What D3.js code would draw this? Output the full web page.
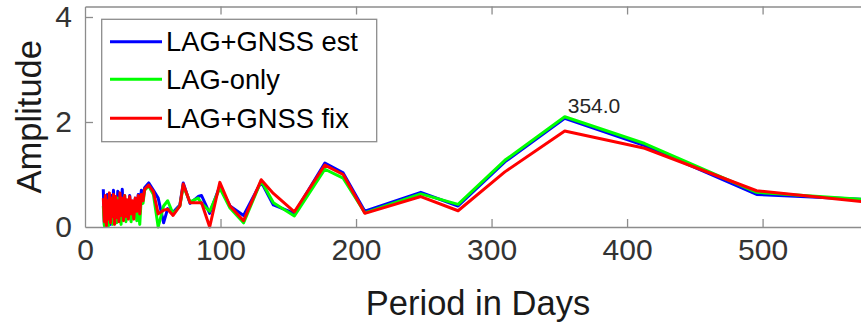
<!DOCTYPE html>
<html>
<head>
<meta charset="utf-8">
<script src="https://cdn.jsdelivr.net/npm/d3@7"></script>
<style>
  body { margin: 0; background: #fff; }
  svg { display: block; font-family: 'Liberation Sans', Arial, sans-serif; }
</style>
</head>
<body>
<div id="graph_container"></div>
<script>
// periods (days) where the lines bend, noisy short-period part first
const periods = [
  13.5, 14.3, 15.0, 15.8, 16.5, 17.3, 18.0, 18.8, 19.5, 20.3, 21.0, 21.8, 22.6, 23.4, 24.2, 25.0, 25.8,
  26.6, 27.5, 28.4, 29.3, 30.2, 31.1, 32.0, 33.0, 34.0, 35.0, 36.0, 37.1, 38.2, 39.3, 40.4, 41.6, 42.8, 44.0,
  47, 50.5, 54, 58, 61, 65, 70, 72.5, 77.5, 83.5, 86, 92, 99.5, 107, 117, 130, 139, 154.5,
  177, 190.5, 206.5, 247.8, 275.3, 309.8, 354, 413, 495.6, 619.5
];
const lagGnssEst = [
  0.72, 0.05, 0.55, 0.10, 0.62, 0.15, 0.45, 0.05, 0.60, 0.20, 0.70, 0.12, 0.55, 0.25, 0.68, 0.18, 0.50,
  0.30, 0.72, 0.20, 0.55, 0.15, 0.48, 0.30, 0.60, 0.22, 0.45, 0.35, 0.55, 0.25, 0.62, 0.40, 0.70, 0.55, 0.75,
  0.84, 0.70, 0.55, 0.08, 0.35, 0.28, 0.42, 0.84, 0.45, 0.58, 0.60, 0.26, 0.78, 0.40, 0.22, 0.86, 0.42, 0.26,
  1.22, 1.03, 0.30, 0.66, 0.40, 1.24, 2.07, 1.55, 0.62, 0.47
];
const lagOnly = [
  0.40, 0.02, 0.50, 0.08, 0.35, 0.02, 0.55, 0.12, 0.45, 0.05, 0.50, 0.20, 0.40, 0.08, 0.55, 0.15, 0.35,
  0.05, 0.50, 0.18, 0.60, 0.10, 0.40, 0.25, 0.50, 0.10, 0.35, 0.20, 0.45, 0.12, 0.40, 0.05, 0.60, 0.45, 0.70,
  0.78, 0.62, 0.00, 0.40, 0.50, 0.25, 0.40, 0.78, 0.48, 0.55, 0.45, 0.30, 0.74, 0.36, 0.08, 0.88, 0.46, 0.21,
  1.10, 0.93, 0.27, 0.63, 0.43, 1.27, 2.10, 1.59, 0.66, 0.45
];
const lagGnssFix = [
  0.55, 0.10, 0.60, 0.02, 0.50, 0.15, 0.65, 0.08, 0.55, 0.20, 0.62, 0.05, 0.58, 0.18, 0.50, 0.10, 0.65,
  0.22, 0.55, 0.12, 0.60, 0.20, 0.52, 0.15, 0.58, 0.25, 0.50, 0.15, 0.55, 0.30, 0.60, 0.25, 0.62, 0.50, 0.72,
  0.80, 0.67, 0.25, 0.32, 0.34, 0.22, 0.40, 0.82, 0.46, 0.46, 0.46, 0.00, 0.85, 0.40, 0.12, 0.90, 0.64, 0.29,
  1.18, 1.00, 0.26, 0.58, 0.31, 1.05, 1.83, 1.50, 0.69, 0.36
];
const seriesNames = ['LAG+GNSS est', 'LAG-only', 'LAG+GNSS fix'];
const seriesColors = ['#0000ff', '#00ff00', '#ff0000'];
const xTicks = [0, 100, 200, 300, 400, 500];
const yTicks = [0, 2, 4];
const peakLabel = { period: 354, amp: 2.07, text: '354.0' };

const width = 861;
const height = 325;
const margin = { top: 6.5, left: 85, bottom: 227, right: 871 };
const AXIS = '#8c8c8c';

let svg, x, y;

function prepare() {
  svg = d3.select('#graph_container').append('svg')
    .attr('width', width).attr('height', height);

  x = d3.scaleLinear().domain([0, 580]).range([margin.left, margin.right]);
  y = d3.scaleLinear().domain([0, 4.2]).range([margin.bottom, margin.top]);

  svg.append('clipPath').attr('id', 'plot-clip')
    .append('rect')
    .attr('x', margin.left).attr('y', margin.top - 3)
    .attr('width', margin.right - margin.left)
    .attr('height', margin.bottom - margin.top + 7);
}

function drawAxes() {
  const bottom = svg.append('g').attr('transform', `translate(0,${margin.bottom})`)
    .call(d3.axisBottom(x).tickValues(xTicks).tickSizeInner(-8).tickSizeOuter(0).tickPadding(12));
  const top = svg.append('g').attr('transform', `translate(0,${margin.top})`)
    .call(d3.axisTop(x).tickValues(xTicks).tickSizeInner(-8).tickSizeOuter(0).tickFormat(''));
  const left = svg.append('g').attr('transform', `translate(${margin.left},0)`)
    .call(d3.axisLeft(y).tickValues(yTicks).tickFormat(d3.format('d'))
      .tickSizeInner(-8).tickSizeOuter(0).tickPadding(13));

  [bottom, top, left].forEach((g) => {
    g.select('.domain').attr('stroke', AXIS).attr('stroke-width', 1.3);
    g.selectAll('.tick line').attr('stroke', AXIS).attr('stroke-width', 1.3);
    g.selectAll('.tick text').attr('fill', '#333').style('font-size', '30px')
      .style('font-family', "'Liberation Sans', Arial, sans-serif");
  });
  // the x=0 tick sits on the left axis, drop the duplicate mark
  bottom.selectAll('.tick line').filter((d) => d === 0).remove();
  top.selectAll('.tick line').filter((d) => d === 0).remove();
  left.selectAll('.tick line').filter((d) => d === 0).remove();

  svg.append('text')
    .attr('x', 478).attr('y', 315)
    .attr('text-anchor', 'middle')
    .style('font-size', '34.5px').attr('fill', '#1a1a1a')
    .text('Period in Days');

  svg.append('text')
    .attr('transform', `translate(41,${(margin.top + margin.bottom) / 2}) rotate(-90)`)
    .attr('text-anchor', 'middle')
    .style('font-size', '34.5px').attr('fill', '#1a1a1a')
    .text('Amplitude');
}

function drawLines() {
  const all = [lagGnssEst, lagOnly, lagGnssFix];
  const line = d3.line()
    .x((d, i) => x(periods[i]))
    .y((d) => y(d));

  svg.append('g').attr('clip-path', 'url(#plot-clip)')
    .selectAll('path').data(all).enter()
    .append('path')
    .attr('d', line)
    .attr('fill', 'none')
    .attr('stroke', (d, i) => seriesColors[i])
    .attr('stroke-width', 3)
    .attr('stroke-linejoin', 'round');

  svg.append('text')
    .attr('x', x(peakLabel.period) + 3)
    .attr('y', y(peakLabel.amp) - 5)
    .style('font-size', '21px').attr('fill', '#262626')
    .text(peakLabel.text);
}

function drawLegend() {
  const legend = svg.append('g');
  legend.append('rect')
    .attr('x', 101.7).attr('y', 19.3).attr('width', 275).attr('height', 122.4)
    .attr('fill', '#fff').attr('stroke', AXIS).attr('stroke-width', 1.3);

  const row = legend.selectAll('g.row').data(seriesNames).enter()
    .append('g').attr('class', 'row')
    .attr('transform', (d, i) => `translate(0,${[41.7, 79.3, 118.3][i]})`);
  row.append('line')
    .attr('x1', 110).attr('x2', 162)
    .attr('stroke', (d, i) => seriesColors[i]).attr('stroke-width', 3);
  row.append('text')
    .attr('x', 166).attr('y', 9.5)
    .style('font-size', '27.3px').attr('fill', '#000')
    .text((d) => d);
}

prepare();
drawLines();
drawAxes();
drawLegend();
</script>
</body>
</html>
